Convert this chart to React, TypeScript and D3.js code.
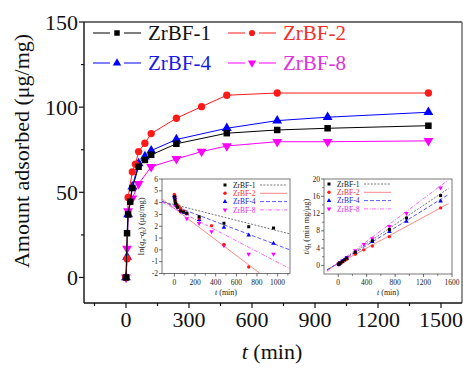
import React from 'react';
import * as d3 from 'd3';

const W = 463, H = 368;
const FONT = "'Liberation Serif','Times New Roman',Times,serif";

// ---------- main chart data ----------
const seriesNames = ['ZrBF-1', 'ZrBF-2', 'ZrBF-4', 'ZrBF-8'];
const seriesColors = ['#000000', '#ff1a1a', '#0000ff', '#ff00ff'];
const textColors = ['#111111', '#f0302a', '#1a1ae0', '#e030e0'];

const tK = [0, 5, 10, 20, 30, 60, 90, 120, 240, 480, 720, 960, 1440];
const qK = [0, 26, 37, 44.5, 52.5, 65, 69, 72, 78.5, 84.7, 86.6, 87.6, 89.1];
const tR = [0, 5, 10, 30, 45, 60, 90, 120, 240, 360, 480, 720, 1440];
const qR = [0, 11, 47, 62, 66.5, 73.9, 78.8, 84.5, 93.5, 100.3, 107, 108.3, 108.3];
const tB = [0, 5, 10, 30, 60, 90, 120, 240, 480, 720, 960, 1440];
const qB = [0, 12, 37, 53.3, 67, 71, 74.5, 81, 87.6, 92.1, 94.1, 97];
const tM = [0, 5, 10, 30, 60, 120, 240, 360, 480, 720, 960, 1440];
const qM = [0, 17, 39, 46.5, 55, 65, 69.6, 73.9, 77.2, 79.7, 79.7, 80.2];

const xTicksMain = [0, 300, 600, 900, 1200, 1500];
const xMinorMain = [-150, 150, 450, 750, 1050, 1350];
const yTicksMain = [0, 50, 100, 150];
const yMinorMain = [25, 75, 125];

// ---------- inset 1: pseudo-first-order ----------
const i1tK = [0, 5, 10, 20, 30, 60, 90, 120, 240, 480, 720, 960];
const i1vK = [4.5, 4.2, 3.95, 3.8, 3.6, 3.3, 3.2, 3.1, 2.8, 2.25, 1.95, 1.85];
const i1tR = [0, 5, 10, 30, 45, 60, 90, 120, 240, 360, 480, 720];
const i1vR = [4.7, 4.55, 4.1, 3.8, 3.65, 3.5, 3.3, 3.1, 2.7, 2.05, 0.45, -1.45];
const i1tB = [0, 5, 10, 30, 60, 90, 120, 240, 480, 720, 960];
const i1vB = [4.6, 4.45, 4.05, 3.75, 3.4, 3.2, 3.05, 2.55, 1.9, 1.25, 0.55];
const i1tM = [0, 5, 10, 30, 60, 120, 240, 360, 480, 720, 960];
const i1vM = [4.4, 4.25, 3.75, 3.6, 3.25, 2.65, 2.25, 1.55, 0.35, -0.35, -0.35];
const i1FitT = [[-120, 1120], [-120, 830], [-120, 1120], [-120, 1120]];
const i1FitV = [[4.1, 1.35], [4.3, -2], [4.1, 0.0], [4.05, -1.6]];
const i1xTicks = [0, 200, 400, 600, 800, 1000];
const i1xMinor = [-100, 100, 300, 500, 700, 900, 1100];
const i1yTicks = [-2, -1, 0, 1, 2, 3, 4, 5, 6];

// ---------- inset 2: pseudo-second-order ----------
const i2tK = [5, 10, 20, 30, 60, 90, 120, 240, 480, 720, 960, 1440];
const i2vK = [0.19, 0.27, 0.45, 0.57, 0.92, 1.3, 1.67, 3.06, 5.67, 8.31, 10.96, 16.16];
const i2tR = [5, 10, 30, 45, 60, 90, 120, 240, 360, 480, 720, 1440];
const i2vR = [0.45, 0.21, 0.48, 0.68, 0.81, 1.14, 1.42, 2.57, 3.59, 4.49, 6.65, 13.3];
const i2tB = [5, 10, 30, 60, 90, 120, 240, 480, 720, 960, 1440];
const i2vB = [0.42, 0.27, 0.56, 0.9, 1.27, 1.61, 2.96, 5.48, 7.82, 10.2, 14.85];
const i2tM = [5, 10, 30, 60, 120, 240, 360, 480, 720, 960, 1440];
const i2vM = [0.29, 0.25, 0.64, 1.09, 1.85, 3.45, 4.87, 6.22, 9.03, 12.04, 17.96];
const i2FitT = [[-160, 1550], [-160, 1550], [-160, 1550], [-160, 1550]];
const i2FitV = [[-1.2, 17.8], [-1.0, 14.3], [-1.1, 16.4], [-1.4, 19.8]];
const i2xTicks = [0, 400, 800, 1200, 1600];
const i2xMinor = [200, 600, 1000, 1400];
const i2yTicks = [0, 4, 8, 12, 16, 20];
const i2yMinor = [2, 6, 10, 14, 18];

const fitDash = ['2,1.4', '', '4,2', '4,1.5,1,1.5'];
const fitColor = ['#555555', '#ff6a6a', '#3030ff', '#ff40ff'];

// scales
const x = d3.scaleLinear().domain([-200, 1600]).range([84, 462]);
const y = d3.scaleLinear().domain([-15, 150]).range([303, 22]);
const x1 = d3.scaleLinear().domain([-120, 1120]).range([162, 290]);
const y1 = d3.scaleLinear().domain([-2, 6]).range([273.5, 179]);
const x2 = d3.scaleLinear().domain([-200, 1600]).range([324, 452]);
const y2 = d3.scaleLinear().domain([-2, 20]).range([274, 179]);

const symTypes = [d3.symbolSquare, d3.symbolCircle, d3.symbolTriangle, d3.symbolTriangle];
const rot = [0, 0, 0, 180];

function Marker({ i, cx, cy, size }: { i: number; cx: number; cy: number; size: number }) {
  const p = d3.symbol().type(symTypes[i]).size(size)() as string;
  return <path d={p} transform={`translate(${cx},${cy}) rotate(${rot[i]})`} fill={seriesColors[i]} />;
}

function Series({ t, v, i, xs, ys, size, line }: any) {
  const pts = t.map((tt: number, k: number) => [xs(tt), ys(v[k])] as [number, number]);
  const ld = d3.line()(pts) as string;
  return (
    <g>
      {line && <path d={ld} fill="none" stroke={seriesColors[i]} strokeWidth={1} />}
      {pts.map((p: [number, number], k: number) => (
        <Marker key={k} i={i} cx={p[0]} cy={p[1]} size={size} />
      ))}
    </g>
  );
}

function Inset({ xs, ys, xTicks, xMinor, yTicks, yMinor, id, data, fitT, fitV, legX, legY, yTitle, yTitleX }: any) {
  const [xa, xb] = xs.range();
  const [yb, ya] = ys.range();
  return (
    <g>
      <defs>
        <clipPath id={id}>
          <rect x={xa} y={ya} width={xb - xa} height={yb - ya} />
        </clipPath>
      </defs>
      <rect x={xa} y={ya} width={xb - xa} height={yb - ya} fill="white" stroke="#555" strokeWidth={0.8} />
      <g clipPath={`url(#${id})`}>
        {fitT.map((ft: number[], i: number) => (
          <line key={i} x1={xs(ft[0])} y1={ys(fitV[i][0])} x2={xs(ft[1])} y2={ys(fitV[i][1])}
            stroke={fitColor[i]} strokeWidth={0.8} strokeDasharray={fitDash[i]} />
        ))}
        {[3, 2, 1, 0].map((i) => (
          <Series key={i} t={data[i][0]} v={data[i][1]} i={i} xs={xs} ys={ys} size={9} line={false} />
        ))}
      </g>
      {xTicks.map((t: number) => (
        <g key={'x' + t}>
          <line x1={xs(t)} x2={xs(t)} y1={yb} y2={yb + 3} stroke="#333" strokeWidth={0.7} />
          <text x={xs(t)} y={yb + 11} fontSize={7.5} textAnchor="middle" fontFamily={FONT} fill="#222">{t}</text>
        </g>
      ))}
      {xMinor.map((t: number) => (
        <line key={'xm' + t} x1={xs(t)} x2={xs(t)} y1={yb} y2={yb + 2} stroke="#333" strokeWidth={0.6} />
      ))}
      {yTicks.map((v: number) => (
        <g key={'y' + v}>
          <line x1={xa - 3} x2={xa} y1={ys(v)} y2={ys(v)} stroke="#333" strokeWidth={0.7} />
          <text x={xa - 4} y={ys(v)} dy="0.35em" fontSize={7.5} textAnchor="end" fontFamily={FONT} fill="#222">{v}</text>
        </g>
      ))}
      {yMinor.map((v: number) => (
        <line key={'ym' + v} x1={xa - 2} x2={xa} y1={ys(v)} y2={ys(v)} stroke="#333" strokeWidth={0.6} />
      ))}
      <text x={(xa + xb) / 2} y={yb + 21} fontSize={8} textAnchor="middle" fontFamily={FONT} fill="#222">
        <tspan fontStyle="italic">t</tspan> (min)
      </text>
      <g transform={`translate(${yTitleX},${(ya + yb) / 2}) rotate(-90)`}>
        {yTitle}
      </g>
      {seriesNames.map((n, i) => (
        <g key={n}>
          <Marker i={i} cx={legX} cy={legY + i * 8.3} size={9} />
          <text x={legX + 8} y={legY + i * 8.3} dy="0.35em" fontSize={7.5} fontFamily={FONT} fill={textColors[i]}>{n}</text>
          <line x1={legX + 35} x2={legX + 62} y1={legY + i * 8.3} y2={legY + i * 8.3}
            stroke={fitColor[i]} strokeWidth={0.8} strokeDasharray={fitDash[i]} />
        </g>
      ))}
    </g>
  );
}

export default function App() {
  const mainData = [[tK, qK], [tR, qR], [tB, qB], [tM, qM]];
  const i1Data = [[i1tK, i1vK], [i1tR, i1vR], [i1tB, i1vB], [i1tM, i1vM]];
  const i2Data = [[i2tK, i2vK], [i2tR, i2vR], [i2tB, i2vB], [i2tM, i2vM]];
  const [X0, X1] = x.range();
  const [Y0, Y1] = y.range();
  const legRows = [
    [0, 93, 33], [1, 228, 33], [2, 93, 63], [3, 228, 63],
  ];
  return (
    <svg width={W} height={H} style={{ position: 'absolute', left: 0, top: 0, background: 'white' }} fontFamily={FONT}>
      <rect width={W} height={H} fill="white" />
      {/* frame */}
      <line x1={X0} x2={X1} y1={Y1} y2={Y1} stroke="#444" strokeWidth={1.4} />
      <line x1={X1} x2={X1} y1={Y1} y2={Y0} stroke="#666" strokeWidth={1.4} />
      {/* main series */}
      {[3, 2, 1, 0].map((i) => (
        <Series key={i} t={mainData[i][0]} v={mainData[i][1]} i={i} xs={x} ys={y} size={42} line={true} />
      ))}
      {/* axes */}
      <line x1={X0} x2={X1} y1={Y0} y2={Y0} stroke="#111" strokeWidth={1.4} />
      <line x1={X0} x2={X0} y1={Y0} y2={Y1} stroke="#111" strokeWidth={1.4} />
      {xTicksMain.map((t) => (
        <g key={t}>
          <line x1={x(t)} x2={x(t)} y1={Y0} y2={Y0 + 5} stroke="#111" strokeWidth={1.2} />
          <text x={x(t)} y={327} fontSize={22} textAnchor="middle" fill="#111">{t}</text>
        </g>
      ))}
      {xMinorMain.map((t) => (
        <line key={t} x1={x(t)} x2={x(t)} y1={Y0} y2={Y0 + 3} stroke="#111" strokeWidth={1.2} />
      ))}
      {yTicksMain.map((v) => (
        <g key={v}>
          <line x1={X0 - 5} x2={X0} y1={y(v)} y2={y(v)} stroke="#111" strokeWidth={1.2} />
          <text x={78} y={y(v)} dy="0.35em" fontSize={22} textAnchor="end" fill="#111">{v}</text>
        </g>
      ))}
      {yMinorMain.map((v) => (
        <line key={v} x1={X0 - 3} x2={X0} y1={y(v)} y2={y(v)} stroke="#111" strokeWidth={1.2} />
      ))}
      <text x={272} y={359} fontSize={22} textAnchor="middle" fill="#111">
        <tspan fontStyle="italic">t</tspan> (min)
      </text>
      <text transform="translate(29,151) rotate(-90)" fontSize={22} textAnchor="middle" fill="#111">
        Amount adsorbed (μg/mg)
      </text>
      {/* legend */}
      {legRows.map(([i, lx, ly]) => (
        <g key={i}>
          <line x1={lx} x2={lx + 17} y1={ly} y2={ly} stroke={seriesColors[i]} strokeWidth={1} />
          <line x1={lx + 31} x2={lx + 48} y1={ly} y2={ly} stroke={seriesColors[i]} strokeWidth={1} />
          <Marker i={i} cx={lx + 24} cy={ly} size={30} />
          <text x={lx + 55} y={ly} dy="0.35em" fontSize={21} fill={textColors[i]}>{seriesNames[i]}</text>
        </g>
      ))}
      {/* insets */}
      <Inset xs={x1} ys={y1} xTicks={i1xTicks} xMinor={i1xMinor} yTicks={i1yTicks} yMinor={[]}
        id="clip1" data={i1Data} fitT={i1FitT} fitV={i1FitV} legX={225} legY={185} yTitleX={144}
        yTitle={
          <text fontSize={8.5} textAnchor="middle" fontFamily={FONT} fill="#222">
            ln(<tspan fontStyle="italic">q</tspan><tspan fontSize={6} dy={2}>e</tspan><tspan dy={-2}>-</tspan><tspan fontStyle="italic">q</tspan><tspan fontSize={6} dy={2}>t</tspan><tspan dy={-2}>) (μg/mg)</tspan>
          </text>
        } />
      <Inset xs={x2} ys={y2} xTicks={i2xTicks} xMinor={i2xMinor} yTicks={i2yTicks} yMinor={i2yMinor}
        id="clip2" data={i2Data} fitT={i2FitT} fitV={i2FitV} legX={329} legY={184} yTitleX={309}
        yTitle={
          <text fontSize={8.5} textAnchor="middle" fontFamily={FONT} fill="#222">
            <tspan fontStyle="italic">t</tspan>/<tspan fontStyle="italic">q</tspan><tspan fontSize={6} dy={2}>t</tspan><tspan dy={-2}> (min mg/μg)</tspan>
          </text>
        } />
    </svg>
  );
}
